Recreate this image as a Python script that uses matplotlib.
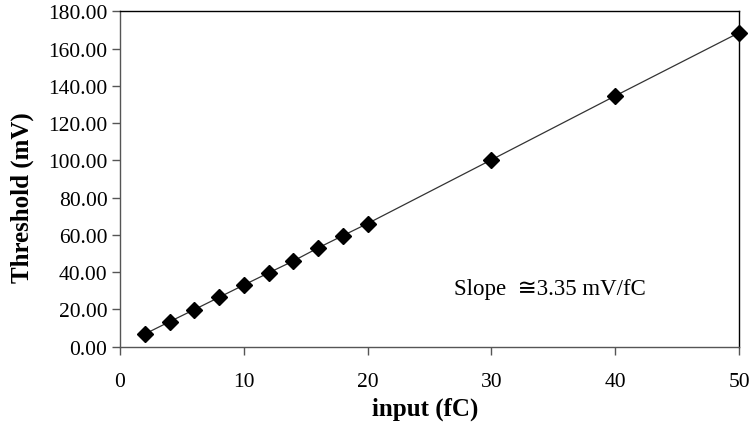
import matplotlib
matplotlib.use("Agg")
import matplotlib.pyplot as plt

input_fc = [2, 4, 6, 8, 10, 12, 14, 16, 18, 20, 30, 40, 50]
threshold_mv = [6.8, 13.4, 19.9, 26.5, 33.1, 39.6, 46.0, 53.0, 59.6, 66.1, 100.3, 134.6, 168.5]
xticks = [0, 10, 20, 30, 40, 50]
yticks = [0, 20, 40, 60, 80, 100, 120, 140, 160, 180]

plt.rcParams['font.family'] = ['Liberation Serif', 'DejaVu Sans']

W, H = 752, 435
fig = plt.figure(figsize=(W / 100, H / 100), dpi=100)
l, r, t, b = 120, 739, 12.3, 347.7
ax = fig.add_axes([l / W, 1 - b / H, (r - l) / W, (b - t) / H])

ax.plot(input_fc, threshold_mv, color='#333333', lw=0.9, marker='D', ms=8,
        mfc='black', mec='black', zorder=3, clip_on=False)

ax.set_xlim(0, 50)
ax.set_ylim(0, 180)
ax.set_xticks(xticks)
ax.set_yticks(yticks)
ax.set_yticklabels([f"{v:.2f}" for v in yticks])
ax.tick_params(axis='both', direction='out', length=6, width=1, labelsize=15.5,
               color='#555555', pad=3)
ax.tick_params(axis='x', pad=12)

for s in ['left', 'bottom']:
    ax.spines[s].set_color('#555555')
    ax.spines[s].set_linewidth(1)
for s in ['top', 'right']:
    ax.spines[s].set_color('black')
    ax.spines[s].set_linewidth(1)

ax.set_xlabel('input (fC)', fontsize=18, fontweight='bold')
ax.set_ylabel('Threshold (mV)', fontsize=18, fontweight='bold')
ax.xaxis.set_label_coords((425 - l) / (r - l), 1 - (398 - t) / (b - t))
ax.yaxis.set_label_coords((34 - l) / (r - l), 1 - (198 - t) / (b - t))

ax.text(27.0, 31, 'Slope  \u22453.35 mV/fC', fontsize=16.5, va='center', ha='left',
        family=['Liberation Serif', 'DejaVu Sans'])

fig.savefig('out.png', dpi=100)
